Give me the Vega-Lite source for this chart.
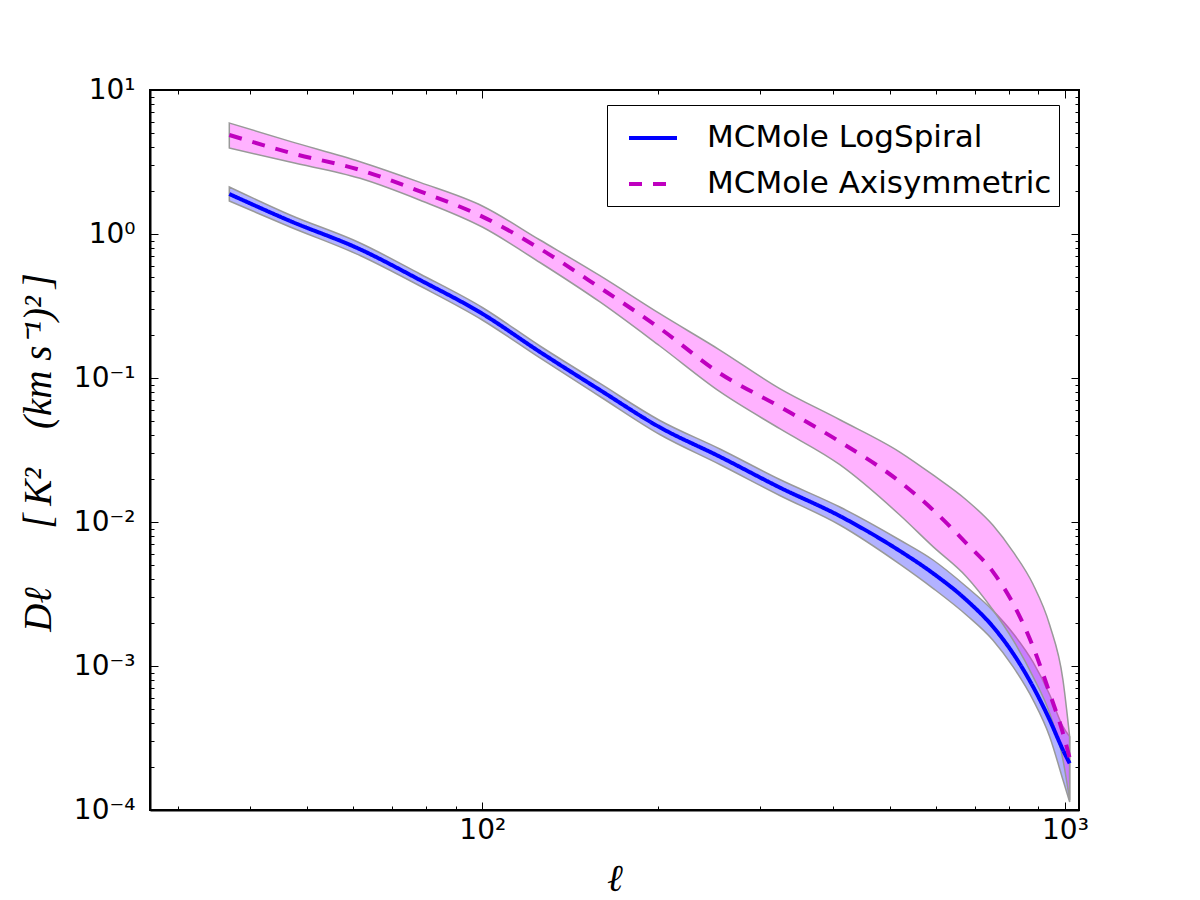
{
  "$schema": "https://vega.github.io/schema/vega-lite/v6.json",
  "width": 929,
  "height": 720,
  "autosize": "none",
  "padding": {"left": 150, "top": 90, "right": 121, "bottom": 90},
  "background": "white",
  "config": {
    "view": {"stroke": "black", "strokeWidth": 2},
    "font": "DejaVu Sans"
  },
  "data": {"values": [
    {"series": "MCMole LogSpiral", "l": 36.8, "v": 1.896, "hi": 2.121, "lo": 1.695},
    {"series": "MCMole LogSpiral", "l": 46.8, "v": 1.231, "hi": 1.355, "lo": 1.118},
    {"series": "MCMole LogSpiral", "l": 61.7, "v": 0.783, "hi": 0.866, "lo": 0.709},
    {"series": "MCMole LogSpiral", "l": 78.2, "v": 0.479, "hi": 0.5275, "lo": 0.4353},
    {"series": "MCMole LogSpiral", "l": 100, "v": 0.2796, "hi": 0.3088, "lo": 0.2528},
    {"series": "MCMole LogSpiral", "l": 125.6, "v": 0.1516, "hi": 0.1668, "lo": 0.1377},
    {"series": "MCMole LogSpiral", "l": 159.2, "v": 0.0825, "hi": 0.0916, "lo": 0.0744},
    {"series": "MCMole LogSpiral", "l": 201.7, "v": 0.04546, "hi": 0.0507, "lo": 0.0405},
    {"series": "MCMole LogSpiral", "l": 255.7, "v": 0.02841, "hi": 0.03213, "lo": 0.02508},
    {"series": "MCMole LogSpiral", "l": 324, "v": 0.01736, "hi": 0.01973, "lo": 0.01528},
    {"series": "MCMole LogSpiral", "l": 410.8, "v": 0.011, "hi": 0.01271, "lo": 0.009532},
    {"series": "MCMole LogSpiral", "l": 520.6, "v": 0.0063, "hi": 0.0075, "lo": 0.0051},
    {"series": "MCMole LogSpiral", "l": 593.7, "v": 0.004403, "hi": 0.005446, "lo": 0.003464},
    {"series": "MCMole LogSpiral", "l": 677.4, "v": 0.002873, "hi": 0.003553, "lo": 0.00226},
    {"series": "MCMole LogSpiral", "l": 752.4, "v": 0.001874, "hi": 0.002424, "lo": 0.001509},
    {"series": "MCMole LogSpiral", "l": 814.3, "v": 0.001225, "hi": 0.001687, "lo": 0.000989},
    {"series": "MCMole LogSpiral", "l": 881.5, "v": 0.000718, "hi": 0.001063, "lo": 0.000581},
    {"series": "MCMole LogSpiral", "l": 941.4, "v": 0.000422, "hi": 0.000632, "lo": 0.000323},
    {"series": "MCMole LogSpiral", "l": 992.2, "v": 0.000261, "hi": 0.000379, "lo": 0.0001616},
    {"series": "MCMole LogSpiral", "l": 1018.7, "v": 0.000211, "hi": 0.000323, "lo": 0.0001137},
    {"series": "MCMole Axisymmetric", "l": 36.8, "v": 4.87, "hi": 5.899, "lo": 3.956},
    {"series": "MCMole Axisymmetric", "l": 46.8, "v": 3.664, "hi": 4.397, "lo": 3.157},
    {"series": "MCMole Axisymmetric", "l": 61.7, "v": 2.783, "hi": 3.178, "lo": 2.437},
    {"series": "MCMole Axisymmetric", "l": 78.2, "v": 1.976, "hi": 2.282, "lo": 1.717},
    {"series": "MCMole Axisymmetric", "l": 100, "v": 1.321, "hi": 1.565, "lo": 1.118},
    {"series": "MCMole Axisymmetric", "l": 125.6, "v": 0.7904, "hi": 0.9085, "lo": 0.634},
    {"series": "MCMole Axisymmetric", "l": 159.2, "v": 0.4238, "hi": 0.5133, "lo": 0.3372},
    {"series": "MCMole Axisymmetric", "l": 201.7, "v": 0.2214, "hi": 0.2796, "lo": 0.1668},
    {"series": "MCMole Axisymmetric", "l": 255.7, "v": 0.1078, "hi": 0.1564, "lo": 0.0803},
    {"series": "MCMole Axisymmetric", "l": 324, "v": 0.06321, "hi": 0.0844, "lo": 0.04445},
    {"series": "MCMole Axisymmetric", "l": 410.8, "v": 0.03611, "hi": 0.0513, "lo": 0.025},
    {"series": "MCMole Axisymmetric", "l": 520.6, "v": 0.01905, "hi": 0.03062, "lo": 0.01118},
    {"series": "MCMole Axisymmetric", "l": 593.7, "v": 0.01212, "hi": 0.02121, "lo": 0.00674},
    {"series": "MCMole Axisymmetric", "l": 677.4, "v": 0.007113, "hi": 0.01422, "lo": 0.004171},
    {"series": "MCMole Axisymmetric", "l": 752.4, "v": 0.004503, "hi": 0.009487, "lo": 0.002448},
    {"series": "MCMole Axisymmetric", "l": 814.3, "v": 0.002724, "hi": 0.006229, "lo": 0.001516},
    {"series": "MCMole Axisymmetric", "l": 881.5, "v": 0.001361, "hi": 0.003693, "lo": 0.000843},
    {"series": "MCMole Axisymmetric", "l": 941.4, "v": 0.000646, "hi": 0.001926, "lo": 0.000469},
    {"series": "MCMole Axisymmetric", "l": 992.2, "v": 0.000341, "hi": 0.000799, "lo": 0.0002225},
    {"series": "MCMole Axisymmetric", "l": 1018.7, "v": 0.0002297, "hi": 0.000323, "lo": 0.0001173}
  ]},
  "resolve": {"axis": {"x": "independent", "y": "independent"}},
  "layer": [
    {
      "mark": {"type": "area", "interpolate": "monotone", "fillOpacity": 0.3, "stroke": "#999999", "strokeWidth": 1.5, "strokeOpacity": 1},
      "encoding": {
        "x": {"field": "l", "type": "quantitative",
          "scale": {"type": "log", "domain": [26.9, 1057], "nice": false},
          "axis": {"orient": "bottom",
            "values": [30, 40, 50, 60, 70, 80, 90, 100, 200, 300, 400, 500, 600, 700, 800, 900, 1000],
            "labelExpr": "datum.value == 100 ? '10²' : datum.value == 1000 ? '10³' : ''",
            "labelFontSize": 28, "labelFont": "DejaVu Sans", "labelColor": "black", "labelPadding": 14,
            "labelFlush": false, "labelOverlap": false,
            "tickSize": {"condition": {"test": "datum.value == 100 || datum.value == 1000", "value": -8}, "value": -4},
            "tickColor": "black", "tickWidth": 1, "domainColor": "black", "domainWidth": 2, "grid": false,
            "title": "ℓ", "titleFont": "Liberation Serif", "titleFontStyle": "italic", "titleFontWeight": "normal",
            "titleFontSize": 38, "titleColor": "black", "titleX": 464.5, "titleY": 80, "titleBaseline": "alphabetic", "titleAlign": "center"}},
        "y": {"field": "lo", "type": "quantitative",
          "scale": {"type": "log", "domain": [0.0001, 10], "nice": false},
          "axis": {"orient": "left",
            "values": [0.0001, 0.0002, 0.0003, 0.0004, 0.0005, 0.0006, 0.0007, 0.0008, 0.0009, 0.001, 0.002, 0.003, 0.004, 0.005, 0.006, 0.007, 0.008, 0.009, 0.01, 0.02, 0.03, 0.04, 0.05, 0.06, 0.07, 0.08, 0.09, 0.1, 0.2, 0.3, 0.4, 0.5, 0.6, 0.7, 0.8, 0.9, 1, 2, 3, 4, 5, 6, 7, 8, 9, 10],
            "labelExpr": "datum.value == 10 ? '10¹' : datum.value == 1 ? '10⁰' : datum.value == 0.1 ? '10⁻¹' : datum.value == 0.01 ? '10⁻²' : datum.value == 0.001 ? '10⁻³' : datum.value == 0.0001 ? '10⁻⁴' : ''",
            "labelFontSize": 28, "labelFont": "DejaVu Sans", "labelColor": "black", "labelPadding": 23,
            "labelFlush": false, "labelOverlap": false,
            "tickSize": {"condition": {"test": "indexof([10, 1, 0.1, 0.01, 0.001, 0.0001], datum.value) >= 0", "value": -8}, "value": -4},
            "tickColor": "black", "tickWidth": 1, "domainColor": "black", "domainWidth": 2, "grid": false,
            "title": "Dℓ\u2003\u2002[\u2009K²\u2002\u2002(km s⁻¹)²\u2009]", "titleFont": "Liberation Serif", "titleFontStyle": "italic", "titleFontWeight": "normal",
            "titleFontSize": 39, "titleColor": "black", "titleAngle": -90, "titleX": -112, "titleY": 362, "titleAlign": "center", "titleBaseline": "middle", "titleLimit": 0}},
        "y2": {"field": "hi"},
        "fill": {"field": "series", "type": "nominal",
          "scale": {"domain": ["MCMole Axisymmetric", "MCMole LogSpiral"], "range": ["#ff00ff", "#0000ff"]}, "legend": null}
      }
    },
    {
      "mark": {"type": "line", "interpolate": "monotone", "strokeWidth": 4},
      "encoding": {
        "x": {"field": "l", "type": "quantitative",
          "scale": {"type": "log", "domain": [26.9, 1057], "nice": false},
          "axis": {"orient": "top", "labels": false, "title": null, "domain": false, "grid": false,
            "values": [30, 40, 50, 60, 70, 80, 90, 100, 200, 300, 400, 500, 600, 700, 800, 900, 1000],
            "tickSize": {"condition": {"test": "datum.value == 100 || datum.value == 1000", "value": -8}, "value": -4},
            "tickColor": "black", "tickWidth": 1}},
        "y": {"field": "v", "type": "quantitative",
          "scale": {"type": "log", "domain": [0.0001, 10], "nice": false},
          "axis": {"orient": "right", "labels": false, "title": null, "domain": false, "grid": false,
            "values": [0.0001, 0.0002, 0.0003, 0.0004, 0.0005, 0.0006, 0.0007, 0.0008, 0.0009, 0.001, 0.002, 0.003, 0.004, 0.005, 0.006, 0.007, 0.008, 0.009, 0.01, 0.02, 0.03, 0.04, 0.05, 0.06, 0.07, 0.08, 0.09, 0.1, 0.2, 0.3, 0.4, 0.5, 0.6, 0.7, 0.8, 0.9, 1, 2, 3, 4, 5, 6, 7, 8, 9, 10],
            "tickSize": {"condition": {"test": "indexof([10, 1, 0.1, 0.01, 0.001, 0.0001], datum.value) >= 0", "value": -8}, "value": -4},
            "tickColor": "black", "tickWidth": 1}},
        "color": {"field": "series", "type": "nominal",
          "scale": {"domain": ["MCMole LogSpiral", "MCMole Axisymmetric"], "range": ["#0000ff", "#bf00bf"]},
          "legend": {"orient": "none", "legendX": 457, "legendY": 15, "title": null,
            "strokeColor": "black", "fillColor": "white", "cornerRadius": 0, "padding": 7,
            "symbolType": "stroke", "symbolSize": 2304, "symbolStrokeWidth": 4, "symbolOffset": 13,
            "labelFontSize": 31, "labelFont": "DejaVu Sans", "labelColor": "black", "labelOffset": 28, "rowPadding": 5, "labelLimit": 600}},
        "strokeDash": {"field": "series", "type": "nominal",
          "scale": {"domain": ["MCMole LogSpiral", "MCMole Axisymmetric"], "range": [[1, 0], [13, 11]]},
          "legend": {"orient": "none", "legendX": 457, "legendY": 15, "title": null}}
      }
    }
  ]
}
